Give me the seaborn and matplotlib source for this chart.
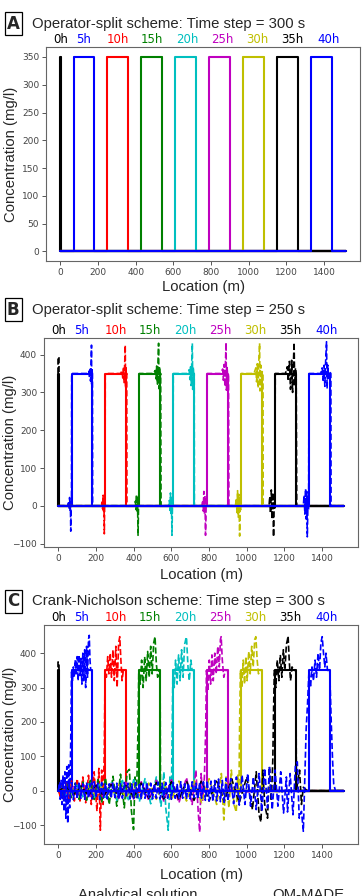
import numpy as np
import pandas as pd
import seaborn as sns
import matplotlib.pyplot as plt

# hours shown above each panel, and the matplotlib colour used for each
hours = ['0h', '5h', '10h', '15h', '20h', '25h', '30h', '35h', '40h']
colors = ['k', 'b', 'r', 'g', 'c', 'm', 'y', 'k', 'b']
hour_label_x = [0, 122, 305, 485, 672, 862, 1043, 1233, 1423]

# analytical solution: square pulse (0h is a spike at the inlet)
pulse_start = [0, 70, 250, 430, 610, 790, 970, 1150, 1330]
pulse_end = [3, 180, 360, 540, 720, 900, 1080, 1260, 1440]
plateau = 350
x_end = 1515

# OM-MADE, operator split, dt = 250 s
b_0h = [(0, 0), (0, 395), (3, 395), (3, 0), (1515, 0)]
b_5h = [(0, 0), (50, 0), (54, 8), (57, -6), (60, 22), (62, -12), (64, 14), (66, -67), (68, 10), (70, 0),
        (71, 350), (155, 350), (162, 356), (165, 340), (168, 364), (171, 330), (174, 370), (176, 425),
        (177, 318), (179, 360), (181, 350), (182, 0), (1515, 0)]
b_10h = [(0, 0), (228, 0), (232, 10), (235, -8), (238, 28), (240, -14), (242, 16), (244, -74), (246, 12),
         (248, 0), (249, 350), (330, 350), (338, 357), (342, 338), (346, 368), (349, 326), (352, 374),
         (355, 425), (357, 312), (359, 365), (361, 345), (363, 350), (364, 0), (1515, 0)]
b_15h = [(0, 0), (405, 0), (409, 12), (412, -10), (415, 30), (417, -18), (420, 20), (423, -78), (426, 14),
         (428, 0), (429, 350), (505, 350), (514, 358), (518, 336), (522, 370), (526, 322), (529, 378),
         (532, 430), (534, 310), (537, 368), (540, 340), (543, 350), (545, 0), (1515, 0)]
b_20h = [(0, 0), (585, 0), (589, 14), (592, -12), (595, 34), (597, -20), (600, 22), (603, -78), (606, 14),
         (608, 0), (610, 350), (685, 350), (694, 360), (698, 334), (702, 372), (705, 318), (708, 380),
         (711, 430), (713, 308), (716, 368), (719, 340), (721, 350), (722, 0), (1515, 0)]
b_25h = [(0, 0), (762, 0), (766, 15), (769, -14), (772, 38), (775, -22), (778, 26), (781, -78), (785, 16),
         (788, 0), (790, 350), (862, 350), (872, 362), (876, 332), (880, 374), (884, 316), (887, 382),
         (890, 432), (892, 306), (895, 370), (899, 338), (903, 350), (905, 0), (1515, 0)]
b_30h = [(0, 0), (940, 0), (944, 20), (948, -18), (951, 40), (955, -30), (958, 30), (962, -80), (966, 22),
         (968, -10), (970, 350), (1038, 350), (1048, 365), (1052, 328), (1056, 376), (1060, 312), (1064, 384),
         (1068, 430), (1070, 304), (1074, 372), (1078, 336), (1082, 355), (1086, 350), (1087, 0), (1515, 0)]
b_35h = [(0, 0), (1118, 0), (1122, 25), (1126, -20), (1130, 42), (1134, -35), (1138, 35), (1142, -82),
         (1146, 25), (1149, -10), (1151, 350), (1205, 350), (1215, 368), (1220, 330), (1226, 382), (1232, 308),
         (1238, 385), (1243, 300), (1247, 372), (1251, 432), (1254, 318), (1258, 365), (1262, 350), (1265, 0),
         (1515, 0)]
b_40h = [(0, 0), (1300, 0), (1304, 28), (1308, -22), (1312, 45), (1315, -35), (1318, 38), (1321, -82),
         (1325, 25), (1328, -10), (1330, 350), (1392, 350), (1400, 365), (1405, 332), (1410, 372), (1414, 316),
         (1418, 378), (1423, 434), (1426, 310), (1430, 372), (1434, 338), (1438, 356), (1446, 350), (1447, 0),
         (1515, 0)]

# OM-MADE, Crank-Nicholson, dt = 300 s
c_0h = [(0, 0), (0, 375), (3, 375), (3, 0), (1515, 0)]
c_5h = [(0, 0), (5, 20), (10, -25), (15, 30), (20, -40), (25, 45), (30, -60), (35, 55), (40, -80), (45, 70),
        (50, -95), (55, 75), (60, -50), (63, 40), (66, 150), (70, 350), (75, 320), (80, 360), (85, 330),
        (90, 380), (95, 340), (100, 390), (105, 320), (110, 395), (115, 335), (120, 385), (125, 310),
        (130, 400), (135, 320), (140, 410), (145, 300), (150, 420), (155, 330), (160, 440), (164, 452),
        (168, 380), (172, 350), (178, 350), (180, 0), (190, 10), (200, -8), (220, 6), (260, -5), (320, 4),
        (400, 0), (1515, 0)]
c_10h = [(0, 0), (10, -15), (20, 18), (30, -20), (40, 22), (55, -25), (70, 28), (85, -30), (100, 35),
         (115, -30), (130, 40), (145, -35), (160, 45), (175, -40), (190, 55), (205, -60), (215, 65),
         (223, -115), (230, 60), (238, -40), (244, 120), (248, 350), (255, 330), (262, 390), (268, 340),
         (275, 400), (282, 330), (290, 410), (297, 320), (305, 420), (312, 300), (320, 430), (326, 448),
         (332, 380), (338, 320), (345, 350), (358, 350), (360, 0), (380, 8), (420, -6), (480, 4), (560, 0),
         (1515, 0)]
c_15h = [(0, 0), (15, 12), (30, -15), (50, 18), (70, -20), (90, 22), (110, -25), (130, 25), (150, -28),
         (170, 30), (190, -30), (210, 32), (230, -35), (250, 38), (270, -40), (290, 42), (310, -45), (330, 48),
         (350, -50), (365, 55), (377, 62), (388, -60), (399, -113), (407, 40), (415, -20), (422, 160),
         (427, 350), (435, 310), (442, 380), (450, 300), (458, 390), (466, 320), (474, 405), (482, 330),
         (490, 420), (498, 340), (506, 430), (513, 448), (520, 370), (527, 330), (535, 350), (540, 350),
         (542, 0), (560, 8), (600, -5), (680, 3), (760, 0), (1515, 0)]
c_20h = [(0, 0), (20, 10), (40, -12), (60, 14), (80, -15), (100, 16), (130, -18), (160, 20), (190, -22),
         (220, 24), (250, -25), (280, 26), (310, -28), (340, 30), (370, -30), (400, 32), (430, -32), (460, 35),
         (490, -38), (520, 40), (545, -45), (560, 55), (570, -50), (583, -115), (592, 40), (600, -10),
         (604, 170), (608, 350), (615, 300), (622, 380), (630, 310), (638, 395), (646, 320), (654, 410),
         (662, 330), (670, 425), (676, 440), (680, 447), (688, 360), (695, 320), (703, 380), (710, 350),
         (719, 350), (721, 0), (740, 6), (800, -4), (900, 0), (1515, 0)]
c_25h = [(0, 0), (25, 10), (50, -10), (80, 12), (110, -14), (140, 15), (170, -16), (200, 18), (240, -20),
         (280, 20), (320, -22), (360, 24), (400, -24), (440, 26), (480, -28), (520, 30), (560, -30), (600, 32),
         (640, -35), (680, 38), (710, -40), (730, 60), (742, -60), (750, -120), (758, 50), (766, -30),
         (775, 40), (782, 180), (786, 350), (794, 290), (801, 380), (808, 310), (815, 395), (822, 320),
         (830, 400), (838, 340), (846, 420), (854, 360), (860, 440), (864, 448), (870, 380), (878, 330),
         (886, 350), (899, 350), (901, 0), (920, 5), (980, -4), (1080, 0), (1515, 0)]
c_30h = [(0, 0), (30, 8), (60, -10), (90, 10), (120, -12), (160, 14), (200, -15), (240, 16), (280, -18),
         (320, 18), (360, -20), (400, 20), (440, -22), (480, 22), (520, -25), (560, 25), (600, -28), (640, 28),
         (680, -30), (720, 30), (760, -35), (800, 35), (840, -40), (865, 50), (878, -85), (890, 40), (905, -50),
         (918, 60), (932, -40), (944, -62), (952, 45), (958, -20), (962, 200), (966, 350), (974, 300),
         (981, 380), (988, 310), (995, 390), (1002, 320), (1010, 405), (1018, 340), (1026, 420), (1034, 360),
         (1042, 440), (1048, 448), (1055, 380), (1062, 340), (1070, 350), (1080, 350), (1082, 0), (1100, 5),
         (1160, -3), (1250, 0), (1515, 0)]
c_35h = [(0, 0), (40, 12), (80, -12), (120, 14), (160, -14), (200, 16), (240, -16), (280, 18), (320, -18),
         (360, 20), (400, -20), (440, 22), (480, -22), (520, 24), (560, -24), (600, 26), (640, -26), (680, 28),
         (720, -28), (760, 30), (800, -30), (840, 32), (880, -32), (920, 34), (960, -35), (1000, 40),
         (1030, -55), (1050, 55), (1065, -70), (1075, -91), (1085, 60), (1095, -40), (1110, -80), (1120, 70),
         (1130, -30), (1138, 90), (1142, 230), (1146, 350), (1154, 300), (1162, 380), (1170, 320), (1178, 395),
         (1186, 330), (1194, 410), (1202, 350), (1210, 425), (1216, 440), (1219, 450), (1225, 380),
         (1232, 320), (1240, 360), (1250, 350), (1261, 350), (1263, 0), (1280, 60), (1290, -40), (1300, 10),
         (1320, 0), (1515, 0)]
c_40h = [(0, 0), (8, 25), (16, -22), (24, 28), (32, -25), (40, 22), (48, -28), (56, 25), (64, -20), (72, 24),
         (80, -26), (90, 22), (100, -24), (110, 26), (120, -22), (130, 20), (140, -25), (150, 24), (160, -22),
         (170, 20), (180, -24), (190, 26), (200, -20), (210, 22), (220, -25), (230, 24), (240, -20), (250, 22),
         (260, -24), (270, 20), (280, -22), (290, 24), (300, -20), (310, 22), (320, -25), (330, 20),
         (340, -22), (350, 24), (360, -20), (370, 22), (380, -24), (390, 20), (400, -22), (410, 24),
         (420, -20), (430, 22), (440, -25), (450, 20), (460, -22), (470, 24), (480, -20), (490, 22),
         (500, -24), (510, 20), (520, -22), (530, 25), (540, -24), (550, 22), (560, -20), (570, 24),
         (580, -22), (590, 20), (600, -25), (610, 24), (620, -22), (630, 20), (640, -24), (650, 26),
         (660, -22), (670, 20), (680, -25), (690, 22), (700, -24), (710, 26), (720, -20), (730, 22),
         (740, -25), (750, 24), (760, -22), (770, 26), (780, -28), (790, 30), (800, -30), (810, 28),
         (820, -32), (830, 30), (840, -30), (850, 34), (860, -32), (870, 30), (880, -34), (890, 36),
         (900, -30), (915, 35), (930, -38), (945, 40), (960, -42), (975, 45), (990, -40), (1005, 50),
         (1020, -45), (1035, 40), (1050, -55), (1065, 50), (1080, -60), (1095, 65), (1110, -50), (1120, 70),
         (1135, -55), (1150, 60), (1165, -45), (1180, 55), (1195, -65), (1210, 40), (1216, -62), (1230, 50),
         (1245, -70), (1258, 75), (1268, 84), (1278, -80), (1290, -60), (1300, -118), (1307, 16), (1315, 180),
         (1322, 250), (1330, 350), (1338, 300), (1346, 360), (1354, 320), (1362, 380), (1370, 330),
         (1378, 400), (1386, 350), (1393, 430), (1400, 448), (1407, 400), (1414, 360), (1420, 400),
         (1428, 350), (1440, 350), (1448, 200), (1455, 90), (1461, 20), (1470, 0), (1515, 0)]

om_made_b = [b_0h, b_5h, b_10h, b_15h, b_20h, b_25h, b_30h, b_35h, b_40h]
om_made_c = [c_0h, c_5h, c_10h, c_15h, c_20h, c_25h, c_30h, c_35h, c_40h]


def analytical(i):
    s, e = pulse_start[i], pulse_end[i]
    return pd.DataFrame({'x': [0, s, s, e, e, x_end], 'y': [0, 0, plateau, plateau, 0, 0]})


def om_made(points):
    return pd.DataFrame(points, columns=['x', 'y'])


sns.set_style('white')
plt.rcParams['font.family'] = ['DejaVu Sans']

fig = plt.figure(figsize=(3.64, 8.96), dpi=100)
W, H = 364, 896
# (left, top, right, bottom) in pixels
boxes = [(46, 47, 360, 261), (44, 338, 358, 547), (44, 625, 358, 844)]
titles = ['Operator-split scheme: Time step = 300 s',
          'Operator-split scheme: Time step = 250 s',
          'Crank-Nicholson scheme: Time step = 300 s']
letters = ['A', 'B', 'C']
title_y = [24, 310, 601]
ylabel_x = [18, 17, 17]
xlabel_pad = [2, 4, 6]
ylims = [(-17.5, 368), (-109, 444), (-155, 482)]
yticks = [np.arange(0, 351, 50), np.arange(-100, 401, 100), np.arange(-100, 401, 100)]
big = 10.7

for p in range(3):
    l, t, r, b = boxes[p]
    ax = fig.add_axes([l / W, 1 - b / H, (r - l) / W, (b - t) / H])
    for i in range(len(hours)):
        sns.lineplot(data=analytical(i), x='x', y='y', ax=ax, color=colors[i], lw=1.5,
                     sort=False, estimator=None)
        if p == 0:
            dashed = analytical(i)
        elif p == 1:
            dashed = om_made(om_made_b[i])
        else:
            dashed = om_made(om_made_c[i])
        sns.lineplot(data=dashed, x='x', y='y', ax=ax, color=colors[i], lw=1.2, linestyle='--',
                     dashes=False, sort=False, estimator=None)
        ax.text(hour_label_x[i], 1.004, hours[i], transform=ax.get_xaxis_transform(),
                ha='center', va='bottom', fontsize=8.5, color=colors[i])
    ax.set_xlim(-76, 1590)
    ax.set_ylim(*ylims[p])
    ax.set_xticks(np.arange(0, 1401, 200))
    ax.set_yticks(yticks[p])
    ax.tick_params(labelsize=6.5, labelcolor='#444444', length=3, width=0.7, color='#555555',
                   bottom=True, left=True, pad=2)
    for s in ax.spines.values():
        s.set_color('#666666')
        s.set_linewidth(0.8)
    ax.set_xlabel('Location (m)', fontsize=big, family='Liberation Sans', labelpad=xlabel_pad[p])
    ax.set_ylabel('Concentration (mg/l)', fontsize=big, family='Liberation Sans')
    ax.yaxis.set_label_coords((ylabel_x[p] - l) / (r - l), 0.5)

    fig.text(7 / W, 1 - title_y[p] / H, letters[p], fontsize=12, fontweight='bold',
             ha='left', va='center',
             bbox=dict(boxstyle='square,pad=0.15', fc='white', ec='black', lw=0.9))
    fig.text(32 / W, 1 - title_y[p] / H, titles[p], fontsize=big, family='Liberation Sans',
             ha='left', va='center')

fig.text(78 / W, 1 - 888 / H, 'Analytical solution', fontsize=big, family='Liberation Sans',
         ha='left', va='top')
fig.text(272 / W, 1 - 888 / H, 'OM-MADE', fontsize=big, family='Liberation Sans', ha='left', va='top')

fig.savefig('out.png', dpi=100)
